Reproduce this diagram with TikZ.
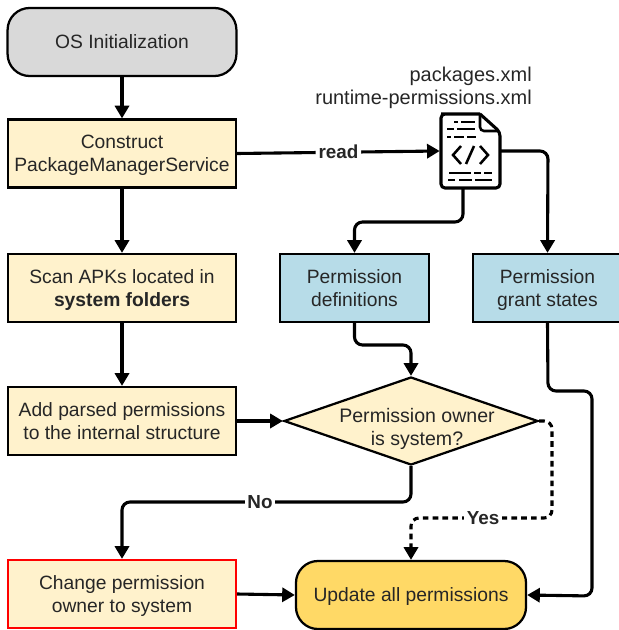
\documentclass[tikz,border=0pt]{standalone}
\usepackage{fontspec}
\setmainfont{Liberation Sans}
\usetikzlibrary{arrows.meta,shapes.geometric}
\definecolor{stepfill}{HTML}{FFF2CC}
\definecolor{infofill}{HTML}{B7DCE8}
\definecolor{startfill}{HTML}{D9D9D9}
\definecolor{endfill}{HTML}{FFD966}
\tikzset{
	base/.style={draw=black, line width=1.6pt, align=center, inner sep=0pt, text depth=0pt, font=\fontsize{13.7}{16.7}\selectfont, text=black!85},
	stepbox/.style={base, fill=stepfill, minimum width=5.7cm, minimum height=1.7cm},
	infobox/.style={base, fill=infofill, minimum width=3.72cm, minimum height=1.7cm},
	roundbox/.style={base, rounded corners=0.55cm, minimum width=5.72cm, minimum height=1.7cm},
	flow/.style={line width=2.2pt, -{Triangle[length=9pt,width=10pt]}, rounded corners=0.2cm},
	tag/.style={fill=white, inner sep=2pt, font=\fontsize{13.4}{15}\selectfont\bfseries, text=black!85},
	docline/.style={line width=1.3pt}
}
\begin{document}
\begin{tikzpicture}[x=0.025cm, y=-0.025cm]
	%%%%% START %%%%%
	\useasboundingbox (0, 0) rectangle (618, 630);

	\node[roundbox, fill=startfill] (init) at (122, 42) {OS Initialization};
	\node[stepbox] (construct) at (122, 153.5) {Construct\\PackageManagerService};
	\node[stepbox] (scan) at (122, 288) {Scan APKs located in\\\textbf{system folders}};
	\node[stepbox] (parse) at (122, 421) {Add parsed permissions\\to the internal structure};
	\node[stepbox, draw=red] (change) at (122, 594) {Change permission\\owner to system};

	\node[infobox] (defs) at (354.5, 288) {Permission\\definitions};
	\node[infobox] (grants) at (547.5, 288) {Permission\\grant states};

	\node[base, diamond, aspect=2.886, fill=stepfill, minimum width=6.35cm, minimum height=2.2cm] (owner) at (411, 421) {};
	\node[align=center, text depth=0pt, font=\fontsize{13.9}{16.7}\selectfont, text=black!85] (ownertext) at (417, 427) {Permission owner\\is system?};

	\node[roundbox, fill=endfill, minimum width=5.75cm, text depth=-2pt] (update) at (411, 595) {Update all permissions};

	\node[align=right, inner sep=0pt, anchor=east, font=\fontsize{14.2}{16.7}\selectfont, text=black!85] (files) at (532, 88) {packages.xml\\runtime-permissions.xml};

	% file icon
	\node[minimum width=1.5cm, minimum height=1.88cm, inner sep=0pt] (doc) at (470, 151) {};
	\coordinate (docout) at (463, 188);
	\draw[line width=2.2pt, fill=white, rounded corners=0.1cm] (480, 114) -- (445, 114) -- (441, 114) -- (441, 188) -- (500, 188) -- (500, 132) -- (480, 114);
	\draw[line width=1.8pt, rounded corners=0.1cm] (480, 114) -- (480, 131) -- (499, 131);
	\draw[docline] (454, 122) -- (458, 122) (461, 122) -- (475, 122);
	\draw[docline] (447, 129) -- (454, 129) (457, 129) -- (475, 129);
	\draw[docline] (447, 137) -- (451, 137) (454, 137) -- (464, 137) (467, 137) -- (476, 137);
	\draw[line width=1.8pt] (461, 146) -- (453, 155) -- (461, 164);
	\draw[line width=1.8pt] (480, 146) -- (488, 155) -- (480, 164);
	\draw[line width=1.8pt] (474, 146) -- (466, 164);
	\draw[docline] (449, 173) -- (471, 173) (474, 173) -- (481, 173) (484, 173) -- (492, 173);
	\draw[docline] (448, 180) -- (455, 180) (459, 180) -- (472, 180) (475, 180) -- (492, 180);

	\draw[flow] (init) -- (construct);
	\draw[flow] (construct) -- (scan);
	\draw[flow] (scan) -- (parse);
	\draw[flow] (parse.east) -- (owner.west);
	\draw[flow] (construct.east) -- node[tag] (readtag) {read} (doc.west);
	\draw[flow] (docout) -- (463, 222) -- (354.5, 222) -- (defs.north);
	\draw[flow] (doc.east) -- (548, 151) -- (grants.north);
	\draw[flow] (defs.south) -- (354.5, 345) -- (411, 345) -- (owner.north);
	\draw[flow] (grants.south) -- (548, 391) -- (592, 391) -- (592, 596) -- (update.east);
	\draw[flow] (owner.south) -- (411, 502) -- (122, 502) -- (change.north);
	\draw[flow] (change.east) -- (update.west);
	\draw[flow, dash pattern=on 4pt off 3pt] (owner.east) -- (552, 421) -- (552, 518) -- (411, 518) -- (update.north);

	\node[tag] (notag) at (260, 502) {No};
	\node[tag] (yestag) at (483, 518) {Yes};
	%%%%% END %%%%%
\end{tikzpicture}
\end{document}
